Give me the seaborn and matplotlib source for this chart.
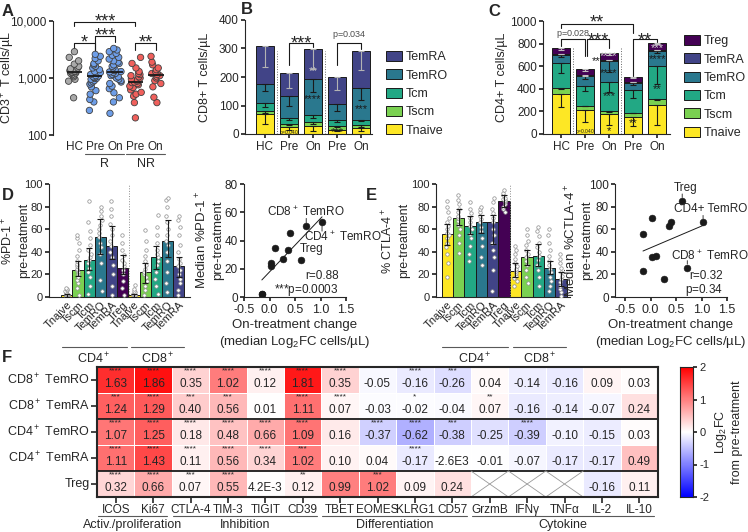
import numpy as np
import pandas as pd
import matplotlib
matplotlib.use("Agg")
import matplotlib.pyplot as plt
import seaborn as sns
from matplotlib.patches import Patch
from matplotlib.ticker import NullLocator
from matplotlib.transforms import blended_transform_factory

# ---------------- data ----------------
group_keys = ["HC", "R Pre", "R On", "NR Pre", "NR On"]
group_ticks = ["HC", "Pre", "On", "Pre", "On"]

# A: CD3+ T cells/uL per patient
cd3_hc = [450, 880, 950, 1050, 1100, 1150, 1200, 1230, 1250, 1280, 1300, 1320,
          1350, 1400, 1450, 1500, 1600, 1750, 2000, 2300, 2900]
cd3_r_pre = [270, 380, 420, 520, 600, 700, 780, 820, 860, 900, 950, 980, 1000, 1020,
             1050, 1080, 1100, 1150, 1200, 1250, 1300, 1400, 1500, 1600, 1700, 1800,
             2000, 2200, 2400, 2600]
cd3_r_on = [240, 380, 450, 550, 650, 720, 800, 850, 900, 950, 1000, 1050, 1100, 1150,
            1200, 1250, 1280, 1300, 1350, 1400, 1500, 1600, 1700, 1800, 1900, 2000,
            2150, 2300, 2500, 2700, 2900, 3100, 3300]
cd3_nr_pre = [200, 370, 480, 520, 560, 620, 680, 720, 760, 800, 830, 850, 880, 920,
              960, 1000, 1050, 1100, 1150, 1200, 1300, 1500, 1800, 2300]
cd3_nr_on = [370, 460, 700, 800, 900, 1000, 1050, 1100, 1150, 1200, 1250, 1300, 1400,
             1500, 1700, 1900, 2400]

# B: CD8 subsets (stacked, cells/uL) and lower error
cd8_subsets = ["Tnaive", "Tscm", "Tcm", "TemRO", "TemRA"]
cd8_tnaive = [70, 23, 29, 15, 20]
cd8_tscm = [9, 12, 12, 12, 11]
cd8_tcm = [29, 21, 25, 21, 19]
cd8_temro = [67, 76, 128, 57, 111]
cd8_temra = [134, 81, 104, 95, 131]
cd8_err_tnaive = [35, 8, 17, 6, 8]
cd8_err_tscm = [4, 4, 5, 4, 5]
cd8_err_tcm = [15, 8, 10, 6, 6]
cd8_err_temro = [23, 35, 45, 26, 41]
cd8_err_temra = [75, 52, 70, 45, 67]

# C: CD4 subsets
cd4_subsets = ["Tnaive", "Tscm", "Tcm", "TemRO", "TemRA", "Treg"]
cd4_tnaive = [352, 214, 176, 150, 255]
cd4_tscm = [53, 38, 29, 40, 53]
cd4_tcm = [225, 173, 258, 200, 293]
cd4_temro = [68, 88, 182, 65, 135]
cd4_temra = [9, 6, 9, 5, 6]
cd4_treg = [50, 53, 64, 41, 61]
cd4_err_tnaive = [109, 111, 94, 80, 175]
cd4_err_tscm = [8, 8, 6, 8, 10]
cd4_err_tcm = [88, 48, 90, 70, 160]
cd4_err_temro = [20, 25, 95, 20, 20]
cd4_err_temra = [2, 2, 2, 2, 2]
cd4_err_treg = [15, 12, 20, 8, 10]

# D/E: populations
pop_keys = ["CD4 Tnaive", "CD4 Tscm", "CD4 Tcm", "CD4 TemRO", "CD4 TemRA", "Treg",
            "CD8 Tnaive", "CD8 Tscm", "CD8 Tcm", "CD8 TemRO", "CD8 TemRA"]
pop_ticks = ["Tnaive", "Tscm", "Tcm", "TemRO", "TemRA", "Treg",
             "Tnaive", "Tscm", "Tcm", "TemRO", "TemRA"]
pop_subset = ["Tnaive", "Tscm", "Tcm", "TemRO", "TemRA", "Treg",
              "Tnaive", "Tscm", "Tcm", "TemRO", "TemRA"]
pd1_median = [2, 24, 33, 53, 45, 26, 2, 22, 35, 50, 27]
pd1_lo = [0, 19, 24, 38, 34, 20, 0, 12, 25, 35, 18]
pd1_hi = [3, 32, 43, 69, 63, 37, 3, 30, 45, 68, 35]
ctla4_median = [56, 70, 63, 66, 66, 85, 23, 35, 36, 26, 16]
ctla4_lo = [46, 64, 56, 57, 47, 80, 18, 28, 27, 20, 10]
ctla4_hi = [65, 78, 72, 73, 73, 90, 30, 42, 47, 32, 22]
log2fc_median = [-0.15, 0.03, 0.37, 1.03, 0.40, 0.62, -0.15, 0.03, 0.10, 0.72, 0.27]

pd1_points = [
    [0.5, 1, 1, 1.5, 2, 2, 2.5, 3, 3.5, 4, 5, 6, 7, 8],
    [2, 8, 12, 15, 18, 20, 22, 24, 25, 27, 29, 32, 36, 42, 48, 52, 55],
    [3, 10, 18, 22, 26, 30, 33, 35, 38, 42, 46, 52, 58, 66, 85],
    [5, 15, 30, 38, 44, 48, 53, 57, 60, 64, 68, 72, 76, 80],
    [2, 10, 20, 28, 35, 40, 45, 50, 55, 60, 65, 72, 78, 85],
    [2, 8, 14, 20, 24, 27, 30, 33, 37, 42, 48, 55],
    [0.5, 1, 1, 1.5, 2, 2.5, 3, 4, 5, 7, 11],
    [2, 6, 10, 14, 18, 20, 22, 25, 28, 32, 36, 42, 50, 59],
    [3, 10, 16, 22, 28, 32, 35, 38, 42, 48, 55, 62, 73],
    [4, 12, 22, 32, 40, 46, 50, 55, 60, 66, 72, 80, 86, 88],
    [2, 6, 12, 16, 20, 24, 27, 30, 34, 40, 46, 55, 62, 68, 72],
]
ctla4_points = [
    [18, 30, 38, 44, 48, 52, 55, 57, 60, 63, 66, 70, 75, 80, 85],
    [39, 48, 55, 60, 64, 67, 70, 72, 75, 78, 82, 86, 90],
    [32, 38, 45, 52, 56, 60, 63, 66, 70, 74, 78, 84],
    [28, 35, 45, 52, 58, 62, 66, 69, 72, 75, 78, 80],
    [5, 24, 35, 42, 48, 55, 60, 66, 70, 74, 78, 84, 88],
    [75, 78, 80, 82, 84, 85, 86, 87, 88, 90, 92, 95],
    [10, 14, 17, 19, 21, 23, 25, 27, 30, 34, 38, 42, 45],
    [12, 18, 24, 28, 32, 35, 38, 42, 46, 50, 55, 60],
    [10, 18, 24, 28, 33, 36, 40, 44, 48, 54, 58, 62],
    [5, 10, 14, 18, 22, 25, 28, 32, 36, 42, 48, 55, 60],
    [1, 4, 7, 10, 13, 16, 19, 22, 26, 30, 34, 38],
]

# F: heatmap
markers = ["ICOS", "Ki67", "CTLA-4", "TIM-3", "TIGIT", "CD39", "TBET", "EOMES",
           "KLRG1", "CD57", "GrzmB", "IFNγ", "TNFα", "IL-2", "IL-10"]
hm_rows = ["CD8$^+$ TemRO", "CD8$^+$ TemRA", "CD4$^+$ TemRO", "CD4$^+$ TemRA", "Treg"]
hm_cd8_temro = [1.63, 1.86, 0.35, 1.02, 0.12, 1.81, 0.35, -0.05, -0.16, -0.26, 0.04, -0.14, -0.16, 0.09, 0.03]
hm_cd8_temra = [1.24, 1.29, 0.40, 0.56, 0.01, 1.11, 0.07, -0.03, -0.02, -0.04, 0.07, -0.16, -0.14, -0.07, 0.24]
hm_cd4_temro = [1.07, 1.25, 0.18, 0.48, 0.66, 1.09, 0.16, -0.37, -0.62, -0.38, -0.25, -0.39, -0.10, -0.15, 0.03]
hm_cd4_temra = [1.11, 1.43, 0.11, 0.56, 0.34, 1.02, 0.10, 0.04, -0.17, -0.0026, -0.01, -0.07, -0.17, -0.17, 0.49]
hm_treg = [0.32, 0.66, 0.07, 0.55, 0.0042, 0.12, 0.99, 1.02, 0.09, 0.24, np.nan, np.nan, np.nan, -0.16, 0.11]
sig_cd8_temro = ["****", "****", "****", "****", "****", "****", "****", "", "****", "***", "", "", "", "", ""]
sig_cd8_temra = ["***", "****", "***", "***", "", "****", "****", "", "*", "", "**", "", "", "", ""]
sig_cd4_temro = ["****", "****", "****", "****", "****", "****", "", "****", "****", "***", "", "****", "", "", ""]
sig_cd4_temra = ["****", "****", "****", "****", "****", "***", "", "", "****", "", "", "", "", "", ""]
sig_treg = ["****", "****", "***", "****", "", "**", "", "***", "", "", "", "", "", "", ""]
marker_groups = [("Activ./proliferation", 0, 2), ("Inhibition", 2, 6),
                 ("Differentiation", 6, 10), ("Cytokine", 10, 15)]

sub_colors = {"Tnaive": "#FDE725", "Tscm": "#7AD151", "Tcm": "#22A884",
              "TemRO": "#2A788E", "TemRA": "#414487", "Treg": "#440154"}

# ---------------- figure ----------------
sns.set_theme(style="ticks")
plt.rcParams["font.family"] = ["Liberation Sans", "DejaVu Sans"]
plt.rcParams["font.size"] = 8.5
plt.rcParams["axes.linewidth"] = 0.8
plt.rcParams["axes.unicode_minus"] = False
plt.rcParams["mathtext.default"] = "regular"
plt.rcParams["xtick.major.size"] = 3
plt.rcParams["ytick.major.size"] = 3
plt.rcParams["xtick.major.pad"] = 2
plt.rcParams["ytick.major.pad"] = 1.5
plt.rcParams["xtick.labelsize"] = 8.5
plt.rcParams["ytick.labelsize"] = 8.5
plt.rcParams["axes.labelsize"] = 9

W, H = 748, 532
fig = plt.figure(figsize=(W / 100, H / 100), dpi=100)


def px_ax(x0, y0, x1, y1):
    return fig.add_axes([x0 / W, 1 - y1 / H, (x1 - x0) / W, (y1 - y0) / H])


def ftext(x, y, s, **kw):
    fig.text(x / W, 1 - y / H, s, **kw)


def ylabel_at(ax, text, right_px, **kw):
    # place a y label so that its right edge sits at pixel column right_px
    ax.set_ylabel(text, **kw)
    pos = ax.get_position()
    ax.yaxis.set_label_coords((right_px / W - pos.x0) / pos.width, 0.5)


def bracket(ax, x1, x2, y, y1, y2, label, fs=13, lab_dy=3):
    tr = blended_transform_factory(ax.transData, fig.transFigure)
    ax.plot([x1, x1, x2, x2], [1 - y1 / H, 1 - y / H, 1 - y / H, 1 - y2 / H],
            transform=tr, color="k", lw=0.8, clip_on=False)
    if label:
        ax.text((x1 + x2) / 2, 1 - (y + lab_dy) / H, label, transform=tr,
                ha="center", va="baseline", fontsize=fs, clip_on=False)


def group_line(ax, x1, x2, y, label, ylab, fs=9):
    tr = blended_transform_factory(ax.transData, fig.transFigure)
    ax.plot([x1, x2], [1 - y / H, 1 - y / H], transform=tr, color="0.35",
            lw=0.8, clip_on=False)
    if label:
        ax.text((x1 + x2) / 2, 1 - ylab / H, label, transform=tr, ha="center",
                va="center", fontsize=fs, clip_on=False)


# ---- A ----
axA = px_ax(53, 21, 168, 135)
cd3_lists = [cd3_hc, cd3_r_pre, cd3_r_on, cd3_nr_pre, cd3_nr_on]
dfA = pd.DataFrame({"group": np.repeat(group_keys, [len(v) for v in cd3_lists]),
                    "cells": np.concatenate(cd3_lists)})
colA = {"HC": "#a9a9a9", "R Pre": "#6e9ee8", "R On": "#6e9ee8",
        "NR Pre": "#f0605c", "NR On": "#f0605c"}
np.random.seed(2)
sns.stripplot(data=dfA, x="group", y="cells", order=group_keys, hue="group",
              hue_order=group_keys, palette=colA, jitter=0.3, size=4.6,
              linewidth=0.6, edgecolor="0.25", legend=False, log_scale=True, ax=axA)
medA = dfA.groupby("group")["cells"].median().reindex(group_keys)
axA.hlines(medA.values, np.arange(5) - 0.38, np.arange(5) + 0.38, color="k", lw=1.3, zorder=5)
axA.set_ylim(100, 10000)
axA.set_yticks([100, 1000, 10000])
axA.set_yticklabels(["100", "1,000", "10,000"])
axA.yaxis.set_minor_locator(NullLocator())
axA.set_xlim(-1.05, 4.6)
axA.set_xticks(range(5))
axA.set_xticklabels(group_ticks)
axA.tick_params(axis="x", length=0, pad=4)
sns.despine(ax=axA, bottom=True)
axA.set_xlabel("")
ylabel_at(axA, "CD3$^+$ T cells/µL", 17)
bracket(axA, 0, 3, 22, 26, 26, "***", fs=13, lab_dy=4)
bracket(axA, 0, 1, 43, 50, 56, "*", fs=13, lab_dy=4)
bracket(axA, 1, 2, 36, 56, 42, "***", fs=13, lab_dy=4)
bracket(axA, 3, 4, 43, 50, 50, "**", fs=13, lab_dy=4)
group_line(axA, 0.52, 2.45, 154, "R", 164)
group_line(axA, 2.55, 4.45, 154, "NR", 164)


# ---- B / C stacked bars ----
def stacked(ax, segs, order, errs, err_colors):
    df = pd.DataFrame(segs, index=group_keys)[order]
    cum = df.cumsum(axis=1)
    for s in reversed(order):
        sns.barplot(x=group_keys, y=cum[s].values, order=group_keys, color=sub_colors[s],
                    saturation=1, width=0.75, edgecolor="k", linewidth=0.7,
                    errorbar=None, ax=ax)
    for s in order:
        e = np.asarray(errs[s])
        ax.errorbar(np.arange(5), cum[s].values, yerr=[e, np.zeros_like(e)], fmt="none",
                    ecolor=err_colors.get(s, "k"), elinewidth=0.8, capsize=2.5,
                    capthick=0.8, zorder=4)
    ax.set_xticks(range(5))
    ax.set_xticklabels(group_ticks)
    sns.despine(ax=ax)
    ax.set_xlabel("")


def legend_at(x, y, order):
    fig.legend(handles=[Patch(fc=sub_colors[s], ec="k", lw=0.7, label=s) for s in order],
               loc="upper left", bbox_to_anchor=(x / W, 1 - y / H), frameon=False,
               fontsize=9, handlelength=1.25, handleheight=0.85, labelspacing=0.48,
               handletextpad=0.35, borderaxespad=0, borderpad=0)


axB = px_ax(245, 20, 372, 134)
stacked(axB, {"Tnaive": cd8_tnaive, "Tscm": cd8_tscm, "Tcm": cd8_tcm,
              "TemRO": cd8_temro, "TemRA": cd8_temra}, cd8_subsets,
        {"Tnaive": cd8_err_tnaive, "Tscm": cd8_err_tscm, "Tcm": cd8_err_tcm,
         "TemRO": cd8_err_temro, "TemRA": cd8_err_temra}, {"TemRA": "0.7"})
axB.set_xlim(-0.83, 4.46)
axB.set_ylim(0, 400)
axB.set_yticks(range(0, 401, 100))
ylabel_at(axB, "CD8+ T cells/µL", 211)
axB.vlines([0.5, 2.5], 0, 290, colors="0.4", linestyles=":", lw=0.7)
bracket(axB, 1, 2, 43, 65, 47, "***", fs=13, lab_dy=5)
bracket(axB, 3, 4, 43, 65, 49, "", fs=13)
ftext(349, 37, "$p$=0.034", ha="center", va="baseline", fontsize=6.5, color="0.3")
for xi, y, s, c in [(2, 222, "**", "0.8"), (2, 122, "****", "k"), (4, 88, "***", "k"),
                    (3, 6, "***", "k")]:
    axB.text(xi, y, s, ha="center", va="center", fontsize=8, color=c)
axB.text(1, 6, "$p$=0.040", ha="center", va="center", fontsize=3.5, color="k")
legend_at(386, 51, list(reversed(cd8_subsets)))

axC = px_ax(543, 21, 670, 134)
stacked(axC, {"Tnaive": cd4_tnaive, "Tscm": cd4_tscm, "Tcm": cd4_tcm, "TemRO": cd4_temro,
              "TemRA": cd4_temra, "Treg": cd4_treg}, cd4_subsets,
        {"Tnaive": cd4_err_tnaive, "Tscm": cd4_err_tscm, "Tcm": cd4_err_tcm,
         "TemRO": cd4_err_temro, "TemRA": cd4_err_temra, "Treg": cd4_err_treg},
        {"Treg": "0.75", "TemRA": "0.75"})
axC.set_xlim(-0.75, 4.54)
axC.set_ylim(0, 1000)
axC.set_yticks(range(0, 1001, 200))
ylabel_at(axC, "CD4+ T cells/µL", 508)
axC.vlines([0.5, 2.5], 0, 760, colors="0.4", linestyles=":", lw=0.7)
bracket(axC, 0, 3, 24, 28, 33, "**", fs=13, lab_dy=3)
bracket(axC, 0, 1, 39, 46, 56, "", fs=13)
bracket(axC, 1.1, 2, 39, 56, 48, "***", fs=13, lab_dy=6)
bracket(axC, 3, 4, 39, 76, 42, "**", fs=13, lab_dy=6)
ftext(573, 36, "$p$=0.028", ha="center", va="baseline", fontsize=6.5, color="0.3")
for xi, y, s, c in [(2, 690, "****", "0.85"), (2, 540, "****", "k"), (2, 335, "***", "k"),
                    (2, 25, "*", "k"), (1.45, 645, "**", "k"), (3, 95, "**", "k"),
                    (4, 760, "***", "0.85"), (4, 660, "****", "k"), (4, 400, "**", "k")]:
    axC.text(xi, y, s, ha="center", va="center", fontsize=8, color=c)
axC.text(1, 25, "$p$=0.040", ha="center", va="center", fontsize=3.5, color="k")
legend_at(684, 35, list(reversed(cd4_subsets)))


# ---- D / E bar + dots ----
def dot_bars(ax, med, lo, hi, pts):
    pal = [sub_colors[s] for s in pop_subset]
    sns.barplot(x=pop_keys, y=med, order=pop_keys, hue=pop_keys, palette=pal,
                saturation=1, width=1.0, edgecolor="k", linewidth=0.7, errorbar=None,
                legend=False, ax=ax)
    dfp = pd.DataFrame({"pop": np.repeat(pop_keys, [len(p) for p in pts]),
                        "val": np.concatenate(pts)})
    sns.stripplot(data=dfp, x="pop", y="val", order=pop_keys, color="white",
                  edgecolor="0.55", linewidth=0.5, size=2.5, jitter=0.13, ax=ax)
    med = np.asarray(med)
    ax.errorbar(np.arange(11), med, yerr=[med - np.asarray(lo), np.asarray(hi) - med],
                fmt="none", ecolor="k", elinewidth=0.8, capsize=2, capthick=0.8, zorder=5)
    ax.axvline(5.55, color="0.55", ls=":", lw=0.7)
    ax.set_ylim(0, 100)
    ax.set_yticks(range(0, 101, 20))
    ax.tick_params(axis="y", labelsize=8)
    ax.set_xticks(range(11))
    ax.set_xticklabels(pop_ticks, rotation=45, ha="right", rotation_mode="anchor", fontsize=8)
    ax.tick_params(axis="x", length=0, pad=2)
    ax.set_xlabel("")
    sns.despine(ax=ax)
    group_line(ax, -0.45, 5.35, 347, "CD4$^+$", 359)
    group_line(ax, 5.75, 10.45, 347, "CD8$^+$", 359)


np.random.seed(5)
axD = px_ax(49, 184, 190, 297)
dot_bars(axD, pd1_median, pd1_lo, pd1_hi, pd1_points)
axD.set_xlim(-1.58, 11.0)
ylabel_at(axD, "%PD-1$^+$\npre-treatment", 30, linespacing=1.3)

axE = px_ax(436, 184, 570, 297)
dot_bars(axE, ctla4_median, ctla4_lo, ctla4_hi, ctla4_points)
axE.set_xlim(-1.0, 10.8)
ylabel_at(axE, "% CTLA-4$^+$\npre-treatment", 410, linespacing=1.3)


# ---- D / E scatter ----
def corr_panel(ax, yvals, ymax, xmin, ylabel, lab_right):
    sns.regplot(x=log2fc_median, y=yvals, scatter=False, ci=None, truncate=True,
                line_kws=dict(color="k", lw=0.7), ax=ax)
    sns.scatterplot(x=log2fc_median, y=yvals, color="k", s=24, edgecolor="k", ax=ax)
    ax.set_xlim(xmin, 1.5)
    ax.set_xticks([-0.5, 0, 0.5, 1.0, 1.5])
    ax.set_xticklabels(["-0.5", "0.0", "0.5", "1.0", "1.5"], fontsize=9)
    ax.set_ylim(0, ymax)
    ax.set_yticks(range(0, ymax + 1, 20))
    ax.tick_params(axis="y", labelsize=8.5)
    sns.despine(ax=ax)
    ax.set_xlabel("On-treatment change\n(median Log$_2$FC cells/µL)", linespacing=1.3,
                  fontsize=9.5, labelpad=2)
    ylabel_at(ax, ylabel, lab_right, linespacing=1.3, fontsize=9.5)


def label_point(ax, i, yvals, text, dx, dy, ha, line_up=None):
    # dx, dy in pixels; line_up: leader length in pixels (+ up, - down)
    xy = (log2fc_median[i], yvals[i])
    if line_up:
        ax.annotate("", xy=xy, xytext=(0, line_up * 0.72), textcoords="offset points",
                    arrowprops=dict(arrowstyle="-", lw=0.6, color="k", shrinkA=0, shrinkB=2.5))
    ax.annotate(text, xy=xy, xytext=(dx * 0.72, dy * 0.72), textcoords="offset points",
                ha=ha, va="center", fontsize=8.5)


axDs = px_ax(244, 184, 346, 297)
corr_panel(axDs, pd1_median, 80, -0.5, "Median %PD-1$^+$\npre-treatment", 224)
label_point(axDs, 9, pd1_median, "CD8$^+$ TemRO", 0, 14, "center", line_up=8)
label_point(axDs, 3, pd1_median, "CD4$^+$ TemRO", -18, -15, "left", line_up=-9)
label_point(axDs, 5, pd1_median, "Treg", -1, 11, "left")
axDs.text(0.93, 0.185, "r=0.88", transform=axDs.transAxes, ha="right", va="center", fontsize=8.5)
axDs.text(0.93, 0.065, "***$p$=0.0003", transform=axDs.transAxes, ha="right", va="center", fontsize=8.5)

axEs = px_ax(615, 184, 727, 297)
corr_panel(axEs, ctla4_median, 100, -0.7, "Median %CTLA-4$^+$\npre-treatment", 593)
label_point(axEs, 5, ctla4_median, "Treg", 3, 13, "center", line_up=7)
label_point(axEs, 3, ctla4_median, "CD4+ TemRO", 8, 13, "center", line_up=7)
label_point(axEs, 9, ctla4_median, "CD8$^+$ TemRO", 23, 12, "center", line_up=7)
axEs.text(0.96, 0.185, "r=0.32", transform=axEs.transAxes, ha="right", va="center", fontsize=8.5)
axEs.text(0.96, 0.065, "$p$=0.34", transform=axEs.transAxes, ha="right", va="center", fontsize=8.5)

# ---- F heatmap ----
axF = px_ax(97, 367, 658, 497)
cax = px_ax(680, 367, 693, 497)
hm_vals = np.array([hm_cd8_temro, hm_cd8_temra, hm_cd4_temro, hm_cd4_temra, hm_treg])
hm_sig = [sig_cd8_temro, sig_cd8_temra, sig_cd4_temro, sig_cd4_temra, sig_treg]
sns.heatmap(pd.DataFrame(hm_vals, index=hm_rows, columns=markers), ax=axF, cmap="bwr",
            vmin=-2, vmax=2, cbar_ax=cax, linewidths=0.6, linecolor="white")
for sp in axF.spines.values():
    sp.set_visible(True)
    sp.set_linewidth(1.5)
axF.axhline(2, color="k", lw=1.3)
axF.axhline(4, color="k", lw=1.3)
axF.tick_params(axis="both", length=4, width=1.2, pad=1)
axF.set_yticklabels(hm_rows, rotation=0, fontsize=9)
axF.set_xticklabels(markers, rotation=0, fontsize=8.5)
label_fix = {(3, 9): "-2.6E3"}


def fmt(v):
    if abs(v) >= 0.005:
        return f"{v:.2f}"
    m, e = f"{v:.1E}".split("E")
    return f"{m}E{int(e)}"


for i in range(hm_vals.shape[0]):
    for j in range(hm_vals.shape[1]):
        v = hm_vals[i, j]
        if np.isnan(v):
            axF.plot([j, j + 1], [i, i + 1], color="0.6", lw=0.6)
            axF.plot([j, j + 1], [i + 1, i], color="0.6", lw=0.6)
            continue
        axF.text(j + 0.5, i + 0.64, label_fix.get((i, j), fmt(v)), ha="center",
                 va="center", fontsize=8.5)
        if hm_sig[i][j]:
            axF.text(j + 0.5, i + 0.02, hm_sig[i][j], ha="center", va="top", fontsize=6)
trF = blended_transform_factory(axF.transData, fig.transFigure)
for name, a, b in marker_groups:
    group_line(axF, a + 0.02, b - 0.12, 516, "", 0)
    axF.text((a + b) / 2 - 0.05, 1 - 519 / H, name, transform=trF, ha="center", va="top",
             fontsize=9)
cax.set_yticks([-2, -1, 0, 1, 2])
cax.tick_params(labelsize=8, length=3, pad=1.5)
cax.yaxis.set_label_position("right")
cax.set_ylabel("Log$_2$FC\nfrom pre-treatment", fontsize=9, linespacing=1.2, labelpad=3)
for sp in cax.spines.values():
    sp.set_visible(True)

# ---- panel letters ----
for x, y, s in [(2, 11, "A"), (241, 10, "B"), (488, 11, "C"), (2, 196, "D"),
                (366, 196, "E"), (2, 358, "F")]:
    ftext(x, y, s, fontsize=12, fontweight="bold", va="center")

fig.savefig("out.png", dpi=100)
